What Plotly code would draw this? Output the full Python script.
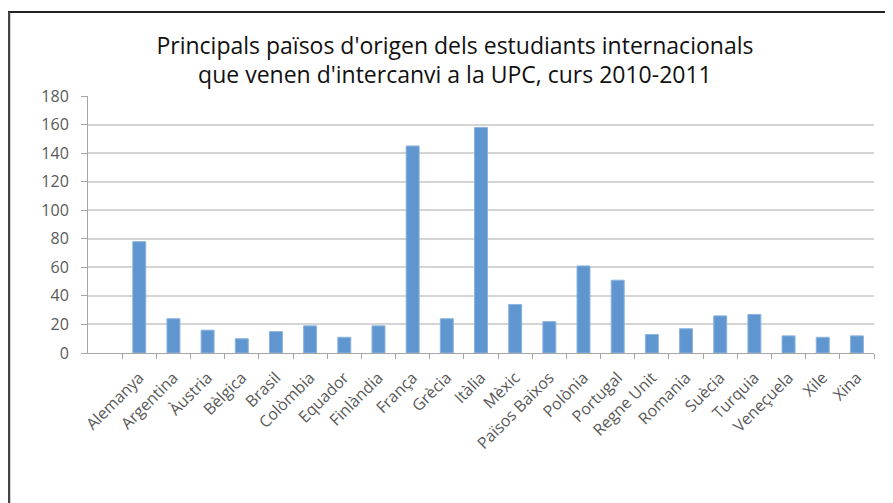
import plotly.graph_objects as go

countries = ["Alemanya", "Argentina", "Àustria", "Bèlgica", "Brasil", "Colòmbia",
             "Equador", "Finlàndia", "França", "Grècia", "Itàlia", "Mèxic",
             "Països Baixos", "Polònia", "Portugal", "Regne Unit", "Romania",
             "Suècia", "Turquia", "Veneçuela", "Xile", "Xina"]
students = [78, 24, 16, 10, 15, 19, 11, 19, 145, 24, 158, 34, 22, 61, 51, 13, 17,
            26, 27, 12, 11, 12]
y_ticks = [0, 20, 40, 60, 80, 100, 120, 140, 160, 180]

title_text = ("Principals països d'origen dels estudiants internacionals<br>"
              "que venen d'intercanvi a la UPC, curs 2010-2011")

fig = go.Figure(go.Bar(
    x=countries, y=students,
    marker=dict(color="#6096cf", line=dict(color="#8db4e0", width=1)),
    width=0.38,
))

fig.update_layout(
    width=885, height=495,
    paper_bgcolor="white", plot_bgcolor="white",
    margin=dict(l=80, r=19, t=88, b=150),
    title=dict(text=title_text, x=0.505, xanchor="center", xref="container",
               y=0.908, yanchor="top", yref="container",
               font=dict(family="Open Sans", size=23, color="#111111")),
    showlegend=False,
    font=dict(family="Open Sans", color="#595959"),
    shapes=[
        dict(type="line", xref="paper", yref="paper", x0=-0.1018, x1=1.1, y0=1.327, y1=1.327,
             line=dict(color="#222222", width=2)),
        dict(type="line", xref="paper", yref="paper", x0=-0.1005, x1=-0.1005, y0=1.327, y1=-0.7,
             line=dict(color="#444444", width=2.5)),
    ],
)

fig.update_xaxes(
    type="category", range=[-1.5, 21.5],
    tickangle=-45, tickfont=dict(size=16, color="#595959"),
    ticklabelstandoff=8,
    showline=True, linecolor="#a6a6a6", linewidth=1,
    ticks="outside", tickson="boundaries", ticklen=5, tickcolor="#a6a6a6",
    showgrid=False,
)
fig.update_yaxes(
    range=[0, 180], tickvals=y_ticks,
    tickfont=dict(size=16, color="#595959"),
    ticklabelstandoff=9,
    showline=True, linecolor="#a6a6a6", linewidth=1,
    ticks="outside", ticklen=6, tickcolor="#a6a6a6",
    showgrid=True, gridcolor="#d4d4d4", gridwidth=1.5,
    zeroline=False,
)

fig.write_html("out.html")
